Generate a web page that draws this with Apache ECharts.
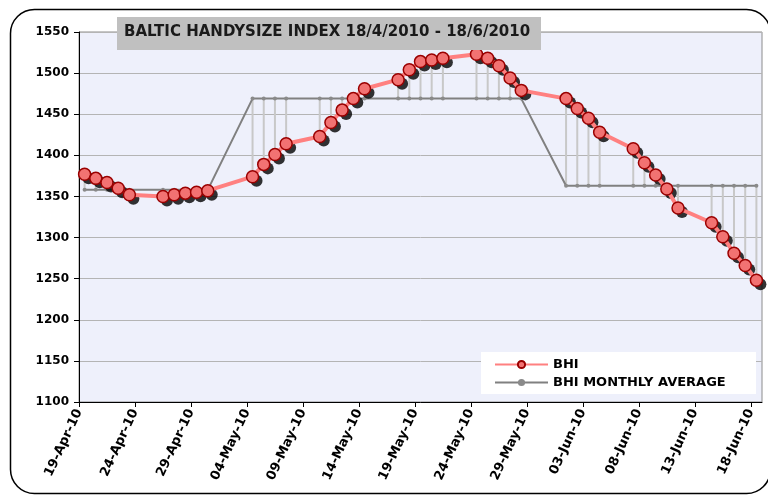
<!DOCTYPE html>
<html>
<head>
<meta charset="utf-8">
<title>Baltic Handysize Index</title>
<script src="https://cdn.jsdelivr.net/npm/echarts@6/dist/echarts.min.js"></script>
<style>
  html, body { margin: 0; padding: 0; background: #fff; }
  #chart { width: 768px; height: 497px; }
</style>
</head>
<body>
<div id="chart"></div>
<script>
// day index counted from 19-Apr-10 (= 0), trading days only
const days = [0, 1, 2, 3, 4, 7, 8, 9, 10, 11,
  15, 16, 17, 18, 21, 22, 23, 24, 25, 28, 29, 30, 31, 32, 35, 36, 37, 38, 39,
  43, 44, 45, 46, 49, 50, 51, 52, 53, 56, 57, 58, 59, 60]
const bhi = [1377, 1372, 1367, 1360, 1352, 1350, 1352, 1354, 1355, 1357,
  1374, 1389, 1401, 1414, 1423, 1440, 1455, 1469, 1481, 1492, 1504, 1514, 1516, 1518, 1523, 1518, 1509, 1494, 1479,
  1469, 1457, 1445, 1428, 1408, 1391, 1376, 1359, 1336, 1318, 1301, 1281, 1266, 1248]
const monthlyAvg = [1358, 1358, 1358, 1358, 1358, 1358, 1358, 1358, 1358, 1358,
  1469, 1469, 1469, 1469, 1469, 1469, 1469, 1469, 1469, 1469, 1469, 1469, 1469, 1469, 1469, 1469, 1469, 1469, 1469,
  1363, 1363, 1363, 1363, 1363, 1363, 1363, 1363, 1363, 1363, 1363, 1363, 1363, 1363]
const monthNames = ['Jan', 'Feb', 'Mar', 'Apr', 'May', 'Jun', 'Jul', 'Aug', 'Sep', 'Oct', 'Nov', 'Dec']
const titleText = 'BALTIC HANDYSIZE INDEX 18/4/2010 - 18/6/2010'
const seriesNames = ['BHI', 'BHI MONTHLY AVERAGE']

function dayLabel(v) {
  const d = new Date(2010, 3, 19 + v)
  const dd = String(d.getDate()).padStart(2, '0')
  return dd + '-' + monthNames[d.getMonth()] + '-10'
}

// points sit in the middle of their day
const bhiData = days.map((d, i) => [d + 0.5, bhi[i]])
const avgData = days.map((d, i) => [d + 0.5, monthlyAvg[i]])
const hiLoData = days.map((d, i) => [d + 0.5, bhi[i], monthlyAvg[i]])

const font = 'DejaVu Sans'
const chart = echarts.init(document.getElementById('chart'))
chart.setOption({
  animation: false,
  backgroundColor: '#fff',
  title: {
    text: titleText,
    left: 124,
    top: 25,
    padding: 0,
    textStyle: { fontFamily: font, fontSize: 15, fontWeight: 'bold', color: '#1a1a1a' },
    z: 20
  },
  graphic: [
    {
      type: 'rect', left: 8, top: 7, z: -10,
      shape: { width: 760, height: 484, r: 24 },
      style: { fill: 'none', stroke: '#000', lineWidth: 1.5 }
    },
    {
      type: 'rect', left: 117, top: 17, z: 15,
      shape: { width: 424, height: 33 },
      style: { fill: '#c0c0c0' }
    },
    {
      type: 'rect', left: 481, top: 352, z: 15,
      shape: { width: 275, height: 42 },
      style: { fill: '#fff' }
    }
  ],
  legend: {
    data: seriesNames,
    orient: 'vertical',
    left: 494,
    top: 358,
    padding: 0,
    itemWidth: 53,
    itemHeight: 9,
    itemGap: 5,
    z: 20,
    textStyle: { fontFamily: font, fontSize: 13, fontWeight: 'bold', color: '#000' }
  },
  grid: {
    left: 79,
    right: 6,
    top: 32,
    bottom: 95,
    show: true,
    backgroundColor: '#eef0fb',
    borderColor: '#8c8c8c',
    borderWidth: 1
  },
  xAxis: {
    type: 'value',
    min: 0,
    max: 61,
    interval: 5,
    splitLine: { show: false },
    axisLine: { lineStyle: { color: '#000', width: 1 } },
    axisTick: { length: 5, lineStyle: { color: '#000' } },
    axisLabel: {
      rotate: 65,
      margin: 8,
      showMaxLabel: false,
      formatter: dayLabel,
      fontFamily: font,
      fontSize: 13,
      fontWeight: 'bold',
      color: '#000'
    }
  },
  yAxis: {
    type: 'value',
    min: 1100,
    max: 1550,
    interval: 50,
    axisLine: { show: true, lineStyle: { color: '#000', width: 1 } },
    axisTick: { show: true, length: 5, lineStyle: { color: '#000' } },
    splitLine: { lineStyle: { color: '#b4b4b4', width: 1 } },
    axisLabel: {
      margin: 10,
      formatter: (v) => String(v),
      fontFamily: font,
      fontSize: 12,
      fontWeight: 'bold',
      color: '#000'
    }
  },
  series: [
    {
      // high-low lines between the two series
      type: 'custom',
      silent: true,
      z: 1,
      data: hiLoData,
      encode: { x: 0, y: [1, 2] },
      renderItem(params, api) {
        const p1 = api.coord([api.value(0), api.value(1)])
        const p2 = api.coord([api.value(0), api.value(2)])
        return {
          type: 'line',
          shape: { x1: p1[0], y1: p1[1], x2: p2[0], y2: p2[1] },
          style: { stroke: '#c8c8c8', lineWidth: 2 }
        }
      }
    },
    {
      name: 'BHI MONTHLY AVERAGE',
      type: 'line',
      z: 2,
      data: avgData,
      symbol: 'circle',
      symbolSize: 4,
      itemStyle: { color: '#8a8a8a' },
      lineStyle: { color: '#808080', width: 2 }
    },
    {
      // marker shadows
      type: 'scatter',
      silent: true,
      z: 3,
      data: bhiData,
      symbolSize: 12,
      symbolOffset: [4, 4],
      itemStyle: { color: '#000' }
    },
    {
      name: 'BHI',
      type: 'line',
      z: 4,
      data: bhiData,
      symbol: 'circle',
      symbolSize: 12,
      itemStyle: { color: '#f27272', borderColor: '#9a0000', borderWidth: 1.5 },
      lineStyle: { color: '#ff8080', width: 4 }
    }
  ]
})
</script>
</body>
</html>
